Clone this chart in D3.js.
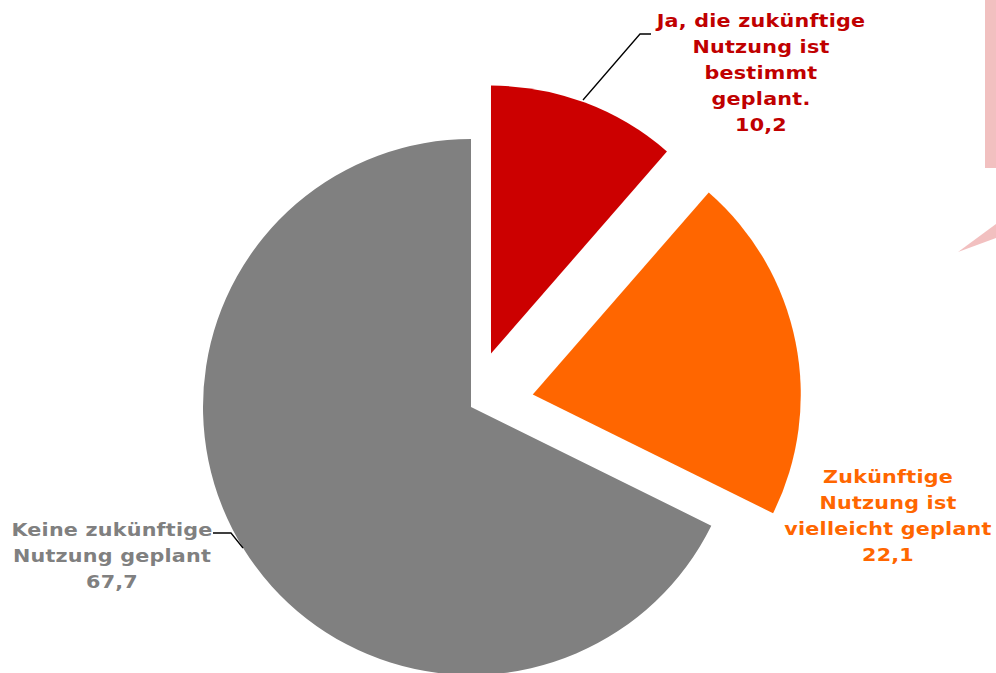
<!DOCTYPE html>
<html>
<head>
<meta charset="utf-8">
<script src="https://cdn.jsdelivr.net/npm/d3@7"></script>
<style>
  body { margin: 0; background: #fff; }
  svg { display: block; }
  .lbl { font-family: "DejaVu Sans", Verdana, sans-serif; font-weight: bold; font-size: 18px; letter-spacing: 0.2px; }
</style>
</head>
<body>
<div id="chart"></div>
<script>
// data, clockwise from 12 o'clock
const categories = ["Ja, die zukünftige Nutzung ist bestimmt geplant.", "Zukünftige Nutzung ist vielleicht geplant", "Keine zukünftige Nutzung geplant"];
// printed values
const valueLabels = ["10,2", "22,1", "67,7"];
// shares as actually drawn in the picture (slice angles differ a bit from the printed values)
const sliceShares = [11.4, 20.9, 67.7];
const labelLines = [
    ["Ja, die zukünftige", "Nutzung ist", "bestimmt", "geplant."],
    ["Zukünftige", "Nutzung ist", "vielleicht geplant"],
    ["Keine zukünftige", "Nutzung geplant"]
];
const sliceColors = ["#cc0000", "#ff6600", "#808080"];
const textColors = ["#c00000", "#ff6600", "#808080"];

const width = 996, height = 673;
const cx = 471, cy = 407, radius = 268;
const explode = [57, 63, 0];

const svg = d3.select("#chart").append("svg")
    .attr("width", width)
    .attr("height", height);

// pink callout fragment at the right edge
svg.append("rect")
    .attr("x", 985).attr("y", 0)
    .attr("width", 11).attr("height", 168)
    .attr("fill", "#f2c0c0");
svg.append("path")
    .attr("d", "M958,252 L996,224 L996,238 Z")
    .attr("fill", "#f2c0c0");

const pie = d3.pie().sort(null).value(d => d)(sliceShares);
const arc = d3.arc().innerRadius(0).outerRadius(radius);

const slices = svg.append("g").attr("transform", `translate(${cx},${cy})`);
slices.selectAll("path")
    .data(pie)
    .enter().append("path")
    .attr("d", arc)
    .attr("fill", (d, i) => sliceColors[i])
    .attr("transform", (d, i) => {
        const mid = (d.startAngle + d.endAngle) / 2;
        return `translate(${Math.sin(mid) * explode[i]},${-Math.cos(mid) * explode[i]})`;
    });

// leader lines
const leaders = [
    [[583, 100], [640, 34], [651, 34]],
    null,
    [[213, 533], [231, 533], [243, 548]]
];
leaders.forEach(pts => {
    if (!pts) return;
    svg.append("path")
        .attr("d", d3.line()(pts))
        .attr("fill", "none")
        .attr("stroke", "#000")
        .attr("stroke-width", 1.3);
});

// labels (the original font is wider than DejaVu, so stretch a little)
const labelPos = [[761, 27], [888, 483], [112, 536]];
const lineGap = 26;
labelLines.forEach((lines, i) => {
    const t = svg.append("text")
        .attr("class", "lbl")
        .attr("text-anchor", "middle")
        .attr("transform", `translate(${labelPos[i][0]},${labelPos[i][1]}) scale(1.15,1)`)
        .attr("fill", textColors[i]);
    lines.concat([valueLabels[i]]).forEach((s, j) => {
        t.append("tspan")
            .attr("x", 0)
            .attr("y", j * lineGap)
            .text(s);
    });
});
</script>
</body>
</html>
